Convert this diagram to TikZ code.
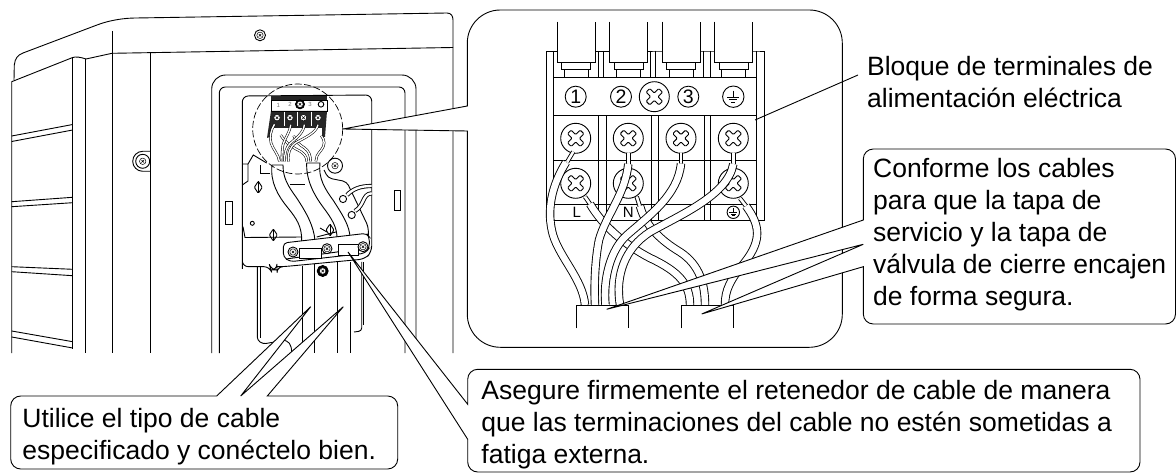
\documentclass[tikz,border=0pt]{standalone}
\usepackage{fontspec}
\setmainfont{Liberation Sans}
\tikzset{
  lbl/.style={inner sep=0,anchor=north west,align=left,font=\fontsize{26.5}{32}\selectfont},
  wire/.style={double=white,double distance=6.6pt,line width=0.9pt},
  stub/.style={double=white,double distance=2.6pt,line width=0.9pt},
  numcirc/.style={circle,draw,fill=white,inner sep=0,minimum size=21pt,line width=0.9pt,font=\fontsize{19.5}{19.5}\selectfont},
  screw/.pic={
    \filldraw[fill=white] (0,0) circle(15);
    \filldraw[fill=white,rotate=45,rounded corners=1pt]
      (2.6,2.6) -- (9,2.6) -- (9,-2.6) -- (2.6,-2.6) -- (2.6,-9) -- (-2.6,-9) -- (-2.6,-2.6)
      -- (-9,-2.6) -- (-9,2.6) -- (-2.6,2.6) -- (-2.6,9) -- (2.6,9) -- cycle;
  },
  smallscrew/.pic={
    \filldraw[fill=white,line width=.5pt] (0,0) circle(3.2);
    \draw[line width=.5pt] (-1.3,-1.3) -- (1.3,1.3) (-1.3,1.3) -- (1.3,-1.3);
  },
  earth/.pic={
    \draw (0,-7) -- (0,1) (-7,1) -- (7,1) (-4.5,3.6) -- (4.5,3.6) (-2.2,6.2) -- (2.2,6.2);
  },
  valve/.pic={
    \filldraw[fill=white,rounded corners=1pt] (0,-6) -- (4,0) -- (0,6) -- (-4,0) -- cycle;
    \draw (0,-6) -- (0,6);
  },
}
% the bundle of cables, written in the coordinates of the enlarged view
\newcommand{\cablesB}{
  \draw[wire] (590,204) .. controls (603,226) and (625,245) .. (650,258) .. controls (680,272) and (690,285) .. (690,305);
  \draw[wire] (640,206) .. controls (645,225) and (660,240) .. (680,252) .. controls (700,265) and (705,285) .. (705,305);
  \draw[wire] (746,206) .. controls (760,225) and (762,240) .. (745,262) .. controls (730,280) and (725,290) .. (725,305);
}
\newcommand{\cablesA}{
  \draw[wire] (566,162.3) .. controls (552,185) and (546,210) .. (553,235) .. controls (560,258) and (583,280) .. (585,305);
  \draw[wire] (628.3,164) .. controls (625,195) and (606,215) .. (599,240) .. controls (595,260) and (594,285) .. (595,305);
  \draw[wire] (681,163.5) .. controls (678,195) and (650,215) .. (627,235) .. controls (610,250) and (603,280) .. (605.5,305);
  \draw[wire] (733.3,164) .. controls (728,195) and (680,215) .. (650,232) .. controls (625,248) and (615,275) .. (620,305);
}
\begin{document}
\begin{tikzpicture}[x=1pt,y=-1pt,line width=0.9pt]
  \useasboundingbox (0,0) rectangle (1176,473);
  % outdoor unit
  \draw (14,80) -- (14.3,65) .. controls (15,58) and (18,55) .. (23,53) -- (97,25)
    .. controls (110,20) and (125,18) .. (136,18) -- (447,13)
    .. controls (451,13) and (453,16) .. (453,20) -- (453,353);
  \draw (11.7,353) -- (11.7,81.7) -- (72.7,57.5) .. controls (76,56.5) and (80,57) .. (86,59)
    -- (112,53.3) -- (453,47.5);
  \draw (72.7,57.5) -- (72.7,349);
  \draw (85,59) -- (85,353);
  \draw (112,31) -- (112,353);
  \draw (150,53) -- (150,353);
  \foreach \ya/\yb in {136/124.5,141.5/130,201.7/197.3,206.7/202.7,266.7/269.3,271.7/275.7,331/341.7,337/348} {
    \draw (11.7,\ya) -- (72.7,\yb);
  }
  \draw (260,35.3) circle(5.5);
  \pic at (260,35.3) {smallscrew};
  \draw (150,171.3) -- (142.7,171.3) arc(90:270:10) -- (150,151.3);
  \draw (142.7,161.3) circle(7);
  \pic at (142.7,161.3) {smallscrew};
  % service opening
  \draw[rounded corners=14pt] (211.7,353) -- (211.7,75) -- (416,75) -- (416,353);
  \draw[rounded corners=6pt] (219.3,353) -- (219.3,87) -- (405,87) -- (405,353);
  \draw (225.7,201.7) rectangle (232.3,224);
  \draw (394.3,190.7) rectangle (400.3,210.7);
  % conduit below the plate
  \draw[rounded corners=3pt] (257.3,266) -- (257.3,340) -- (263,344) -- (283,340.5);
  \draw (260,266) -- (260,338);
  \draw (283,340) .. controls (288,341) and (291.7,343) .. (291.7,353);
  \draw (302.3,266) -- (302.3,353);
  \draw (314.3,263) -- (314.3,353);
  \draw (337.3,262) -- (337.3,353);
  \draw (350,262) -- (350,353);
  \draw[rounded corners=3pt] (361.7,262) -- (361.7,331) -- (354,332);
  \draw (363.7,262) -- (363.7,325);
  \filldraw[fill=white,rounded corners=6pt] (242.3,263) -- (242.3,96) -- (371.7,95) -- (371.7,252) -- (365,259)
    -- (283,266.7) -- (277,266.7) -- (277,270) -- (271,270) -- (270,266.7) -- (242.3,266.7) -- cycle;
  \filldraw[fill=black] (322.7,271) circle(5.5);
  \pic at (322.7,271) {smallscrew};
  % plate
  \draw (242.3,164) -- (248,164) -- (248,181) -- (242.3,185);
  \draw (248,164) -- (253.3,155) -- (266.7,163);
  \draw (260,165) -- (260,173) -- (270,173);
  \pic at (258.3,187.3) {valve};
  \pic at (273.3,235) {valve};
  \pic at (330,230) {valve};
  \draw (252.3,223.3) circle(2);
  \draw (243,226.7) -- (245,237.5) -- (302,237);
  \draw (290,184.3) -- (305,184.3);
  \draw (316.7,237) -- (337,231.7);
  \draw (320,228) -- (327,232);
  \draw[rounded corners=4pt] (324,170) -- (328,178) -- (346.7,181.7) -- (368.3,226.7) -- (368.3,240);
  \draw (335,165.7) circle(7.5);
  \pic at (335,165.7) {smallscrew};
  % earth wires on the plate
  \draw[stub,double distance=2.4pt] (347,195) .. controls (353,189) and (360,186) .. (371.7,186);
  \draw[stub,double distance=2.4pt] (355,211) .. controls (365,205) and (362,194) .. (371.7,193.3);
  \draw[fill=white] (343,199) circle(3.6);
  \draw[fill=white] (351.7,215) circle(3.6);
  % flat cables
  \filldraw[fill=white] (272,165) .. controls (270,182) and (278,196) .. (288,208)
    .. controls (296,218) and (302,226) .. (301.7,241) -- (315,241)
    .. controls (314,226) and (306,212) .. (296,197) .. controls (288,186) and (283,178) .. (283,165) -- cycle;
  \filldraw[fill=white] (306.7,163) .. controls (306,180) and (314,195) .. (323,207)
    .. controls (332,219) and (337,227) .. (337,238) -- (350,238)
    .. controls (350,226) and (342,214) .. (333,200) .. controls (325,189) and (318,178) .. (320,163) -- cycle;
  % clamp
  \filldraw[fill=white,rounded corners=4pt] (283.3,243) -- (366.7,233.3) -- (369.3,237) -- (369.3,248) -- (365,253.3)
    -- (290,261.7) -- (283.3,257) -- cycle;
  \draw (286,259) -- (366,248);
  \filldraw[fill=white] (299.3,248.3) rectangle (321.7,258.3);
  \filldraw[fill=white] (338.3,244) rectangle (358.3,255);
  \foreach \px/\py in {293/252,327/248.7,363/246.7} {
    \draw[fill=white] (\px,\py) circle(5);
    \pic at (\px,\py) {smallscrew};
  }
  % terminal block on the unit
  \fill[white] (272,96) rectangle (327,111);
  \fill[black!85] (271,111) -- (327,111) -- (325,137) -- (322,137) -- (322,128) -- (272,128) -- (270,137) -- (267,138) -- cycle;
  \fill[black!85] (271,96) rectangle (327,100);
  \draw (271,100) rectangle (327,111);
  \foreach \dx in {284,297,311} {
    \draw[white] (\dx,112) -- (\dx,126);
  }
  \node[inner sep=0,text=black!55,font=\fontsize{6}{6}\selectfont] (smallone) at (278.3,105.7) {1};
  \node[inner sep=0,text=black!55,font=\fontsize{6}{6}\selectfont] (smalltwo) at (290,104.3) {2};
  \node[inner sep=0,text=black!55,font=\fontsize{6}{6}\selectfont] (smallthree) at (310,104.3) {3};
  \draw (321,104.3) circle(2.8);
  \filldraw[fill=black] (300,104.3) circle(4.5);
  \pic at (300,104.3) {smallscrew};
  \foreach \px in {277,290,303.5,318} {
    \pic at (\px,117.7) {smallscrew};
  }
  \begin{scope}[shift={(277,118)},scale=.26,shift={(-575.7,-138)},
    wire/.style={double=white,double distance=1.4pt,line width=.55pt}]
    \cablesB
    \cablesA
  \end{scope}
  \draw[dashed,dash pattern=on 7pt off 2.5pt,line width=.7pt] (297.7,129) circle(45);
  % enlarged view
  \coordinate (bubbleTip) at (343,129);
  \filldraw[fill=white] (467.3,131) -- (467.3,314.3) arc(180:90:33) -- (809.3,347.3) arc(90:0:33)
    -- (842.3,43) arc(0:-90:33) -- (500.3,10) arc(-90:-180:33) -- (467.3,106) -- (bubbleTip) -- cycle;
  % terminal block
  \draw (553.3,220) -- (546,220) -- (546,51) -- (756,51) -- (764,51) -- (764,220) -- (756,220);
  \draw (553.3,51) -- (553.3,220) -- (756,220) -- (756,51);
  \foreach \xa in {598.3,603.3,650.7,655.7,703.3,710.7} {
    \draw (\xa,51) -- (\xa,77.3);
  }
  \foreach \xa in {598.3,606.7,651.7,658.3,704.3,710.7} {
    \draw (\xa,115) -- (\xa,220);
  }
  \filldraw[fill=white] (553.3,77.3) rectangle (756,115);
  \draw (553.3,160) -- (756,160);
  \draw (553.3,204) -- (756,204);
  \foreach \sx in {576.3,628.5,681,733.7} {
    \filldraw[fill=white] (\sx-19,21.7) -- (\sx-19,62.3) -- (\sx+19,62.3) -- (\sx+19,21.7);
    \draw (\sx-14.5,62.3) -- (\sx-14.5,69.3) -- (\sx+14.5,69.3) -- (\sx+14.5,62.3);
    \draw (\sx-12,69.3) -- (\sx-12,77.3) (\sx+12,69.3) -- (\sx+12,77.3);
  }
  \node[numcirc] (one) at (575.7,96.7) {1};
  \node[numcirc] (two) at (621,96.7) {2};
  \node[numcirc] (three) at (688.3,96.7) {3};
  \draw[fill=white] (733.3,96.7) circle(10.7);
  \pic[scale=.85] at (733.3,96.7) {earth};
  \pic at (654.3,96.7) {screw};
  \foreach \sx in {575.7,628.3,681,733.3} {
    \pic at (\sx,138.3) {screw};
  }
  \foreach \sx in {575.7,628.3,733.3} {
    \pic at (\sx,183.3) {screw};
  }
  \node[inner sep=0,font=\fontsize{15}{15}\selectfont] (lineL) at (576.7,212.5) {L};
  \node[inner sep=0,font=\fontsize{15}{15}\selectfont] (lineN) at (628.3,212.5) {N};
  \draw (733.3,212.3) circle(6.2);
  \pic[scale=.55] at (733.3,212.3) {earth};
  % cables
  \draw[stub] (585,196.7) -- (590.7,205);
  \draw[stub] (636.7,196.7) -- (640,206.7);
  \draw[stub] (740,198.3) -- (746,206);
  \cablesB
  \draw[stub] (573.3,151.7) -- (567.3,161.7);
  \foreach \sx in {628.3,681,733.3} {
    \draw[stub] (\sx,153) -- (\sx,164);
  }
  \cablesA
  \filldraw[fill=white] (576.3,328.3) -- (576.3,305.7) -- (628.3,305.7) -- (628.3,328.3);
  \filldraw[fill=white] (681.3,328.3) -- (681.3,305.7) -- (733.3,305.7) -- (733.3,328.3);
  % labels
  \node[lbl] (bloque) at (866.7,55.7) {Bloque de terminales de\\alimentación eléctrica};
  \coordinate (bloqueTip) at (755,120);
  \draw (858,75) -- (bloqueTip);
  \coordinate (confA) at (606.7,309.3);
  \coordinate (confB) at (701.7,314);
  \filldraw[fill=white] (863.3,266.7) -- (863.3,314) arc(180:90:10) -- (1165.5,324) arc(90:0:10)
    -- (1175.5,159) arc(0:-90:10) -- (873.3,149) arc(-90:-180:10) -- (863.3,220) -- (confA)
    -- (863.3,244.3) -- (confB) -- cycle;
  \node[lbl] (conforme) at (872.7,157.4) {Conforme los cables\\para que la tapa de\\servicio y la tapa de\\válvula de cierre encajen\\de forma segura.};
  \coordinate (asegTip) at (348,252);
  \filldraw[fill=white] (467.7,439.3) -- (467.7,462) arc(180:90:10) -- (1130,472) arc(90:0:10)
    -- (1140,379.3) arc(0:-90:10) -- (477.7,369.3) arc(-90:-180:10) -- (467.7,404.3) -- (asegTip) -- cycle;
  \node[lbl] (asegure) at (481,380) {Asegure firmemente el retenedor de cable de manera\\que las terminaciones del cable no estén sometidas a\\fatiga externa.};
  \coordinate (utilA) at (310.7,306.7);
  \coordinate (utilB) at (343.3,306.7);
  \filldraw[fill=white] (267.3,396) -- (387.7,396) arc(-90:0:10) -- (397.7,459) arc(0:90:10)
    -- (20.7,469) arc(90:180:10) -- (10.7,406) arc(180:270:10) -- (216.7,396) -- (utilA)
    -- (240.7,396) -- (utilB) -- cycle;
  \node[lbl] (utilice) at (22,407.7) {Utilice el tipo de cable\\especificado y conéctelo bien.};
\end{tikzpicture}
\end{document}
